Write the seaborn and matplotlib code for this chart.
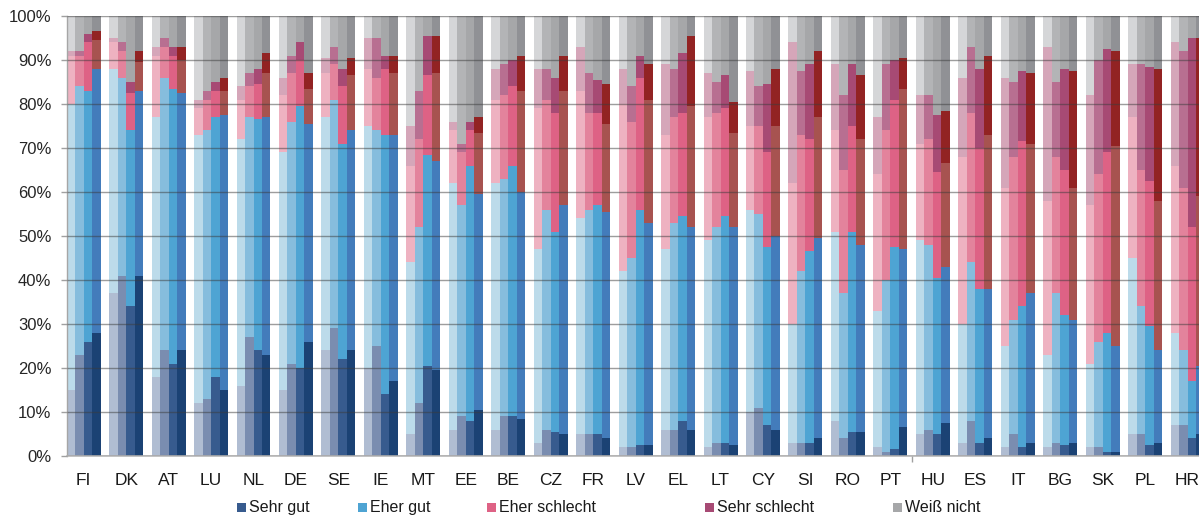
import pandas as pd
import matplotlib
matplotlib.use("Agg")
import matplotlib.pyplot as plt
from matplotlib.patches import Rectangle
import seaborn as sns

# Länder in Reihenfolge der Anzeige
countries = ["FI", "DK", "AT", "LU", "NL", "DE", "SE", "IE", "MT", "EE", "BE", "CZ", "FR",
             "LV", "EL", "LT", "CY", "SI", "RO", "PT", "HU", "ES", "IT", "BG", "SK", "PL", "HR"]
# vier Erhebungswellen je Land (hell -> dunkel)
waves = ["W1", "W2", "W3", "W4"]
categories = ["Sehr gut", "Eher gut", "Eher schlecht", "Sehr schlecht", "Weiß nicht"]

# Anteile in % je Land, je Welle
sehr_gut = [
    [15, 23, 26, 28], [37, 41, 34, 41], [18, 24, 21, 24], [12, 13, 18, 15], [16, 27, 24, 23],
    [15, 21, 20, 26], [24, 29, 22, 24], [20, 25, 14, 17], [5, 12, 20.5, 19.5], [6, 9, 8, 10.5],
    [6, 9, 9, 8.5], [3, 6, 5.5, 5], [5, 5, 5, 4], [2, 2, 2.5, 2.5], [6, 6, 8, 6],
    [2, 3, 3, 2.5], [10, 11, 7, 6], [3, 3, 3, 4], [8, 4, 5.5, 5.5], [2, 1, 1.5, 6.5],
    [5, 6, 5, 7.5], [3, 8, 3, 4], [2, 5, 2, 3], [2, 3, 2.5, 3], [2, 2, 1, 1],
    [5, 5, 2.5, 3], [7, 7, 4, 5],
]
eher_gut = [
    [65, 61, 57, 60], [51, 45, 40, 42], [59, 62, 62.5, 58.5], [61, 61, 59, 62.5], [56, 50, 52.5, 54],
    [54, 55, 59.5, 49.5], [53, 52, 49, 50], [55, 49, 59, 56], [39, 40, 48, 47.5], [56, 48, 58, 49],
    [56, 54, 57, 51.5], [44, 50, 45.5, 52], [49, 51, 52, 51.5], [40, 43, 53.5, 50.5], [41, 47, 46.5, 46],
    [47, 49, 51.5, 49.5], [46, 44, 40.5, 44], [27, 39, 43.5, 45.5], [43, 33, 45.5, 42.5], [31, 39, 46, 40.5],
    [44, 42, 35.5, 35.5], [27, 36, 35, 34], [23, 26, 32, 34], [21, 34, 29.5, 28], [19, 24, 27, 24],
    [40, 29, 27, 21], [21, 17, 13, 15.5],
]
eher_schlecht = [
    [11, 7, 11, 6.5], [6, 6, 8.5, 6.5], [14, 7, 7.5, 7.5], [6, 7, 6, 5.5], [9, 7, 8, 10],
    [13, 11, 10.5, 8], [10, 8, 13, 12.5], [13, 12, 15, 14], [22, 20, 18, 20], [12, 12, 8, 14],
    [19, 19, 18, 23], [32, 25, 27, 26], [29, 22, 21, 20], [38, 31, 30, 28], [26, 24, 23.5, 27.5],
    [28, 26, 24.5, 21.5], [19, 20, 21.5, 25], [32, 31, 25.5, 27.5], [23, 28, 24, 24], [31, 34, 33.5, 36.5],
    [22, 24, 24, 23.5], [38, 34, 32, 35], [36, 37, 37.5, 34], [35, 31, 33, 30], [36, 38, 41, 45.5],
    [32, 31, 33, 34], [38, 37, 35, 38.5],
]
sehr_schlecht = [
    [1, 1, 2, 2], [1, 2, 2.5, 2.5], [2, 2, 2, 3], [2, 2, 2, 3], [3, 3, 3.5, 4.5],
    [4, 4, 4, 3.5], [3.5, 4, 4, 4], [7, 9, 3, 4], [9, 11, 9, 8.5], [2, 2, 2, 3.5],
    [7, 7, 6, 8], [9, 7, 8, 8], [10, 9, 7.5, 9], [8, 8, 5, 8], [16, 11, 13.5, 16],
    [10, 7, 7.5, 7], [12.5, 9, 15.5, 13], [32, 14.5, 17, 15], [15, 17, 14, 14.5], [13, 15, 9, 7],
    [11, 10, 13, 12], [18, 15, 18, 18], [25, 17, 16, 16], [35, 17, 23, 26.5], [25, 26, 23.5, 21.5],
    [12, 24, 26, 30], [28, 31, 43, 36],
]
weiss_nicht = [
    [8, 8, 4, 3.5], [5, 6, 15, 8], [7, 5, 7, 7], [19, 17, 15, 14], [16, 13, 12, 8.5],
    [14, 9, 6, 13], [9.5, 7, 12, 9.5], [5, 5, 9, 9], [25, 17, 4.5, 4.5], [24, 29, 24, 23],
    [12, 11, 10, 9], [12, 12, 14, 9], [7, 13, 14.5, 15.5], [12, 16, 9, 11], [11, 12, 8.5, 4.5],
    [13, 15, 13.5, 19.5], [12.5, 16, 15.5, 12], [6, 12.5, 11, 8], [11, 18, 11, 13.5], [23, 11, 10, 9.5],
    [18, 18, 22.5, 21.5], [14, 7, 12, 9], [14, 15, 12.5, 13], [7, 15, 12, 12.5], [18, 10, 7.5, 8],
    [11, 11, 11.5, 12], [6, 8, 5, 5],
]

# Farbabstufungen je Kategorie, Welle 1 (hell) bis Welle 4 (dunkel)
palettes = {
    "Sehr gut":      ["#b0bdd2", "#7a8db0", "#375b8e", "#1b4274"],
    "Eher gut":      ["#bcdbea", "#86bddd", "#4ea4d3", "#437cbb"],
    "Eher schlecht": ["#eeb2c1", "#e3839c", "#de6285", "#a75350"],
    "Sehr schlecht": ["#d5a6b9", "#b86f91", "#a74a74", "#922323"],
    "Weiß nicht":    ["#d5d6d8", "#b3b4b6", "#a6a7a9", "#909195"],
}
legend_colors = ["#375b8e", "#4ea4d3", "#de6285", "#a74a74", "#a6a7a9"]

sns.set_theme(style="white")
plt.rcParams["font.family"] = ["Liberation Sans", "DejaVu Sans"]

series = [sehr_gut, eher_gut, eher_schlecht, sehr_schlecht, weiss_nicht]
rows = []
for ci, land in enumerate(countries):
    for wi, welle in enumerate(waves):
        row = {"land": land, "welle": welle}
        for cat, values in zip(categories, series):
            row[cat] = values[ci][wi]
        rows.append(row)
df = pd.DataFrame(rows)
cum = df[categories].cumsum(axis=1)

W, H = 1199, 517
fig = plt.figure(figsize=(W / 100, H / 100), dpi=100)
ax = fig.add_axes([66.7 / W, 61 / H, (W - 66.7) / W, 440 / H])

# gestapelte Säulen: von oben nach unten überlagert zeichnen
for k in reversed(range(len(categories))):
    layer = df[["land", "welle"]].assign(wert=cum[categories[k]].values)
    sns.barplot(data=layer, x="land", y="wert", hue="welle", order=countries,
                hue_order=waves, palette=palettes[categories[k]], saturation=1,
                width=0.8, gap=0, errorbar=None, legend=False, linewidth=0, ax=ax)

ax.set_xlim(-0.4, 26.27)
ax.set_ylim(0, 100)
ax.set_xlabel("")
ax.set_ylabel("")

ax.set_yticks(range(0, 101, 10))
ax.set_yticklabels([f"{v}%" for v in range(0, 101, 10)])
ax.tick_params(axis="y", which="major", left=True, direction="out", length=4,
               width=1, color="#a0a0a0", pad=7, labelsize=12, labelcolor="#262626")
ax.tick_params(axis="x", which="major", bottom=False, length=0, pad=12,
               labelsize=12.5, labelcolor="#1a1a1a")
ax.set_xticks([19.5], minor=True)
ax.tick_params(axis="x", which="minor", bottom=True, direction="out", length=4,
               width=1, color="#a0a0a0")

ax.set_axisbelow(False)
ax.yaxis.grid(True, color="#3c3c3c", alpha=0.5, linewidth=1.0)
ax.xaxis.grid(False)

for side in ["top", "right"]:
    ax.spines[side].set_visible(False)
ax.spines["left"].set_color("#a6a6a6")
ax.spines["left"].set_linewidth(1.0)
ax.spines["bottom"].set_color("#b8b8b8")
ax.spines["bottom"].set_linewidth(1.2)

# Legende unterhalb der Achse
legend_x = [237, 358, 487, 705, 893]
for x0, label, color in zip(legend_x, categories, legend_colors):
    fig.add_artist(Rectangle((x0 / W, (H - 512) / H), 9 / W, 9 / H,
                             transform=fig.transFigure, facecolor=color, edgecolor="none"))
    fig.text((x0 + 12) / W, (H - 507.5) / H, label, fontsize=11.5, color="#1a1a1a",
             ha="left", va="center")

fig.savefig("out.png", dpi=100)
